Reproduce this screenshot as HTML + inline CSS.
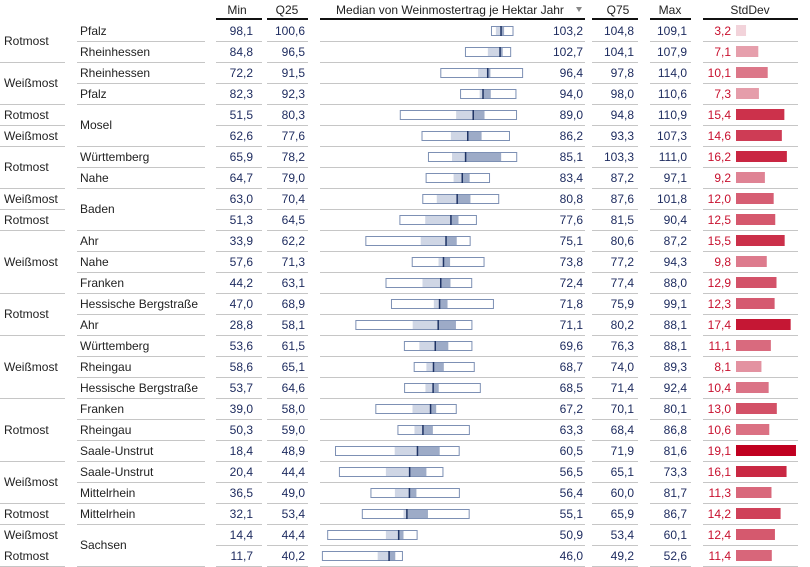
<!DOCTYPE html>
<html><head><meta charset="utf-8">
<style>
html,body{margin:0;padding:0;background:#fff;}
svg{display:block;}
text{font-family:"Liberation Sans",sans-serif;font-size:12px;}
.h{fill:#222;text-anchor:middle;}
.l{fill:#222;}
.n{fill:#1c2a5e;text-anchor:end;}
.s{fill:#c8102e;text-anchor:end;}
</style></head><body>
<svg id="c" width="810" height="567" viewBox="0 0 810 567" xmlns="http://www.w3.org/2000/svg">
<g id="shapes"></g>
<text class="h" x="237" y="14">Min</text>
<text class="h" x="287" y="14">Q25</text>
<text class="h" x="450" y="14">Median von Weinmostertrag je Hektar Jahr</text>
<polygon points="576,7 582,7 579,12" fill="#888"/>
<text class="h" x="618" y="14">Q75</text>
<text class="h" x="670" y="14">Max</text>
<text class="h" x="750" y="14">StdDev</text>

<text class="l" x="4" y="45">Rotmost</text>
<text class="l" x="4" y="87">Weißmost</text>
<text class="l" x="4" y="119">Rotmost</text>
<text class="l" x="4" y="140">Weißmost</text>
<text class="l" x="4" y="171">Rotmost</text>
<text class="l" x="4" y="203">Weißmost</text>
<text class="l" x="4" y="224">Rotmost</text>
<text class="l" x="4" y="266">Weißmost</text>
<text class="l" x="4" y="318">Rotmost</text>
<text class="l" x="4" y="371">Weißmost</text>
<text class="l" x="4" y="434">Rotmost</text>
<text class="l" x="4" y="486">Weißmost</text>
<text class="l" x="4" y="518">Rotmost</text>
<text class="l" x="4" y="539">Weißmost</text>
<text class="l" x="4" y="560">Rotmost</text>

<text class="l" x="80" y="35">Pfalz</text>
<text class="l" x="80" y="56">Rheinhessen</text>
<text class="l" x="80" y="77">Rheinhessen</text>
<text class="l" x="80" y="98">Pfalz</text>
<text class="l" x="80" y="129">Mosel</text>
<text class="l" x="80" y="161">Württemberg</text>
<text class="l" x="80" y="182">Nahe</text>
<text class="l" x="80" y="213">Baden</text>
<text class="l" x="80" y="245">Ahr</text>
<text class="l" x="80" y="266">Nahe</text>
<text class="l" x="80" y="287">Franken</text>
<text class="l" x="80" y="308">Hessische Bergstraße</text>
<text class="l" x="80" y="329">Ahr</text>
<text class="l" x="80" y="350">Württemberg</text>
<text class="l" x="80" y="371">Rheingau</text>
<text class="l" x="80" y="392">Hessische Bergstraße</text>
<text class="l" x="80" y="413">Franken</text>
<text class="l" x="80" y="434">Rheingau</text>
<text class="l" x="80" y="455">Saale-Unstrut</text>
<text class="l" x="80" y="476">Saale-Unstrut</text>
<text class="l" x="80" y="497">Mittelrhein</text>
<text class="l" x="80" y="518">Mittelrhein</text>
<text class="l" x="80" y="549">Sachsen</text>

<g class="n">
<text x="253" y="35">98,1</text><text x="305" y="35">100,6</text><text x="583" y="35">103,2</text><text x="634" y="35">104,8</text><text x="687" y="35">109,1</text>
<text x="253" y="56">84,8</text><text x="305" y="56">96,5</text><text x="583" y="56">102,7</text><text x="634" y="56">104,1</text><text x="687" y="56">107,9</text>
<text x="253" y="77">72,2</text><text x="305" y="77">91,5</text><text x="583" y="77">96,4</text><text x="634" y="77">97,8</text><text x="687" y="77">114,0</text>
<text x="253" y="98">82,3</text><text x="305" y="98">92,3</text><text x="583" y="98">94,0</text><text x="634" y="98">98,0</text><text x="687" y="98">110,6</text>
<text x="253" y="119">51,5</text><text x="305" y="119">80,3</text><text x="583" y="119">89,0</text><text x="634" y="119">94,8</text><text x="687" y="119">110,9</text>
<text x="253" y="140">62,6</text><text x="305" y="140">77,6</text><text x="583" y="140">86,2</text><text x="634" y="140">93,3</text><text x="687" y="140">107,3</text>
<text x="253" y="161">65,9</text><text x="305" y="161">78,2</text><text x="583" y="161">85,1</text><text x="634" y="161">103,3</text><text x="687" y="161">111,0</text>
<text x="253" y="182">64,7</text><text x="305" y="182">79,0</text><text x="583" y="182">83,4</text><text x="634" y="182">87,2</text><text x="687" y="182">97,1</text>
<text x="253" y="203">63,0</text><text x="305" y="203">70,4</text><text x="583" y="203">80,8</text><text x="634" y="203">87,6</text><text x="687" y="203">101,8</text>
<text x="253" y="224">51,3</text><text x="305" y="224">64,5</text><text x="583" y="224">77,6</text><text x="634" y="224">81,5</text><text x="687" y="224">90,4</text>
<text x="253" y="245">33,9</text><text x="305" y="245">62,2</text><text x="583" y="245">75,1</text><text x="634" y="245">80,6</text><text x="687" y="245">87,2</text>
<text x="253" y="266">57,6</text><text x="305" y="266">71,3</text><text x="583" y="266">73,8</text><text x="634" y="266">77,2</text><text x="687" y="266">94,3</text>
<text x="253" y="287">44,2</text><text x="305" y="287">63,1</text><text x="583" y="287">72,4</text><text x="634" y="287">77,4</text><text x="687" y="287">88,0</text>
<text x="253" y="308">47,0</text><text x="305" y="308">68,9</text><text x="583" y="308">71,8</text><text x="634" y="308">75,9</text><text x="687" y="308">99,1</text>
<text x="253" y="329">28,8</text><text x="305" y="329">58,1</text><text x="583" y="329">71,1</text><text x="634" y="329">80,2</text><text x="687" y="329">88,1</text>
<text x="253" y="350">53,6</text><text x="305" y="350">61,5</text><text x="583" y="350">69,6</text><text x="634" y="350">76,3</text><text x="687" y="350">88,1</text>
<text x="253" y="371">58,6</text><text x="305" y="371">65,1</text><text x="583" y="371">68,7</text><text x="634" y="371">74,0</text><text x="687" y="371">89,3</text>
<text x="253" y="392">53,7</text><text x="305" y="392">64,6</text><text x="583" y="392">68,5</text><text x="634" y="392">71,4</text><text x="687" y="392">92,4</text>
<text x="253" y="413">39,0</text><text x="305" y="413">58,0</text><text x="583" y="413">67,2</text><text x="634" y="413">70,1</text><text x="687" y="413">80,1</text>
<text x="253" y="434">50,3</text><text x="305" y="434">59,0</text><text x="583" y="434">63,3</text><text x="634" y="434">68,4</text><text x="687" y="434">86,8</text>
<text x="253" y="455">18,4</text><text x="305" y="455">48,9</text><text x="583" y="455">60,5</text><text x="634" y="455">71,9</text><text x="687" y="455">81,6</text>
<text x="253" y="476">20,4</text><text x="305" y="476">44,4</text><text x="583" y="476">56,5</text><text x="634" y="476">65,1</text><text x="687" y="476">73,3</text>
<text x="253" y="497">36,5</text><text x="305" y="497">49,0</text><text x="583" y="497">56,4</text><text x="634" y="497">60,0</text><text x="687" y="497">81,7</text>
<text x="253" y="518">32,1</text><text x="305" y="518">53,4</text><text x="583" y="518">55,1</text><text x="634" y="518">65,9</text><text x="687" y="518">86,7</text>
<text x="253" y="539">14,4</text><text x="305" y="539">44,4</text><text x="583" y="539">50,9</text><text x="634" y="539">53,4</text><text x="687" y="539">60,1</text>
<text x="253" y="560">11,7</text><text x="305" y="560">40,2</text><text x="583" y="560">46,0</text><text x="634" y="560">49,2</text><text x="687" y="560">52,6</text>
</g>
<g class="s">
<text x="731" y="35">3,2</text><text x="731" y="56">7,1</text><text x="731" y="77">10,1</text><text x="731" y="98">7,3</text>
<text x="731" y="119">15,4</text><text x="731" y="140">14,6</text><text x="731" y="161">16,2</text><text x="731" y="182">9,2</text>
<text x="731" y="203">12,0</text><text x="731" y="224">12,5</text><text x="731" y="245">15,5</text><text x="731" y="266">9,8</text>
<text x="731" y="287">12,9</text><text x="731" y="308">12,3</text><text x="731" y="329">17,4</text><text x="731" y="350">11,1</text>
<text x="731" y="371">8,1</text><text x="731" y="392">10,4</text><text x="731" y="413">13,0</text><text x="731" y="434">10,6</text>
<text x="731" y="455">19,1</text><text x="731" y="476">16,1</text><text x="731" y="497">11,3</text><text x="731" y="518">14,2</text>
<text x="731" y="539">12,4</text><text x="731" y="560">11,4</text>
</g>
</svg>
<script>
(function(){
var D=[[98.1,100.6,103.2,104.8,109.1,3.2],[84.8,96.5,102.7,104.1,107.9,7.1],[72.2,91.5,96.4,97.8,114.0,10.1],[82.3,92.3,94.0,98.0,110.6,7.3],[51.5,80.3,89.0,94.8,110.9,15.4],[62.6,77.6,86.2,93.3,107.3,14.6],[65.9,78.2,85.1,103.3,111.0,16.2],[64.7,79.0,83.4,87.2,97.1,9.2],[63.0,70.4,80.8,87.6,101.8,12.0],[51.3,64.5,77.6,81.5,90.4,12.5],[33.9,62.2,75.1,80.6,87.2,15.5],[57.6,71.3,73.8,77.2,94.3,9.8],[44.2,63.1,72.4,77.4,88.0,12.9],[47.0,68.9,71.8,75.9,99.1,12.3],[28.8,58.1,71.1,80.2,88.1,17.4],[53.6,61.5,69.6,76.3,88.1,11.1],[58.6,65.1,68.7,74.0,89.3,8.1],[53.7,64.6,68.5,71.4,92.4,10.4],[39.0,58.0,67.2,70.1,80.1,13.0],[50.3,59.0,63.3,68.4,86.8,10.6],[18.4,48.9,60.5,71.9,81.6,19.1],[20.4,44.4,56.5,65.1,73.3,16.1],[36.5,49.0,56.4,60.0,81.7,11.3],[32.1,53.4,55.1,65.9,86.7,14.2],[14.4,44.4,50.9,53.4,60.1,12.4],[11.7,40.2,46.0,49.2,52.6,11.4]];
var g=document.getElementById('shapes'),s='';
function X(v){return 299+1.957*v;}
function ln(x1,x2,y,c,w){s+='<rect x="'+x1+'" y="'+y+'" width="'+(x2-x1)+'" height="'+(w||1)+'" fill="'+c+'"/>';}
var cols=[[216,262],[267,308],[320,585],[592,638],[650,691],[703,798]];
cols.forEach(function(c){ln(c[0],c[1],18,'#111',2);});
var grpEnds=[1,3,4,5,7,8,9,12,14,17,20,22,23,25];
var regNo=[4,8,24];
var sep='#c6c6c6';
for(var i=0;i<26;i++){
 var yb=41+21*i;
 cols.forEach(function(c){ln(c[0],c[1],yb,sep);});
 if(regNo.indexOf(i)<0) ln(77,205,yb,sep);
 if(grpEnds.indexOf(i)>=0) ln(0,65,yb,sep);
 var d=D[i],yc=30.5+21*i,top=yc-4.5;
 var a=X(d[0]),q1=X(d[1]),m=X(d[2]),q3=X(d[3]),b=X(d[4]);
 s+='<rect x="'+q1+'" y="'+top+'" width="'+(m-q1)+'" height="9" fill="#cfd6e5"/>';
 s+='<rect x="'+m+'" y="'+top+'" width="'+(q3-m)+'" height="9" fill="#9dabc7"/>';
 s+='<rect x="'+(a+0.5)+'" y="'+(top+0.5)+'" width="'+(b-a)+'" height="9" fill="none" stroke="#7d90b4" stroke-width="1"/>';
 s+='<rect x="'+(m-0.7)+'" y="'+(top)+'" width="1.5" height="10" fill="#1f3465"/>';
 var t=(d[5]-3.2)/(19.1-3.2);
 var r=Math.round(242+(192-242)*t),gg=Math.round(211+(0-211)*t),bb=Math.round(218+(32-218)*t);
 s+='<rect x="736" y="'+(yc-5.5)+'" width="'+(d[5]*3.14)+'" height="11" fill="rgb('+r+','+gg+','+bb+')"/>';
}
g.innerHTML=s;
})();
</script>
</body></html>
